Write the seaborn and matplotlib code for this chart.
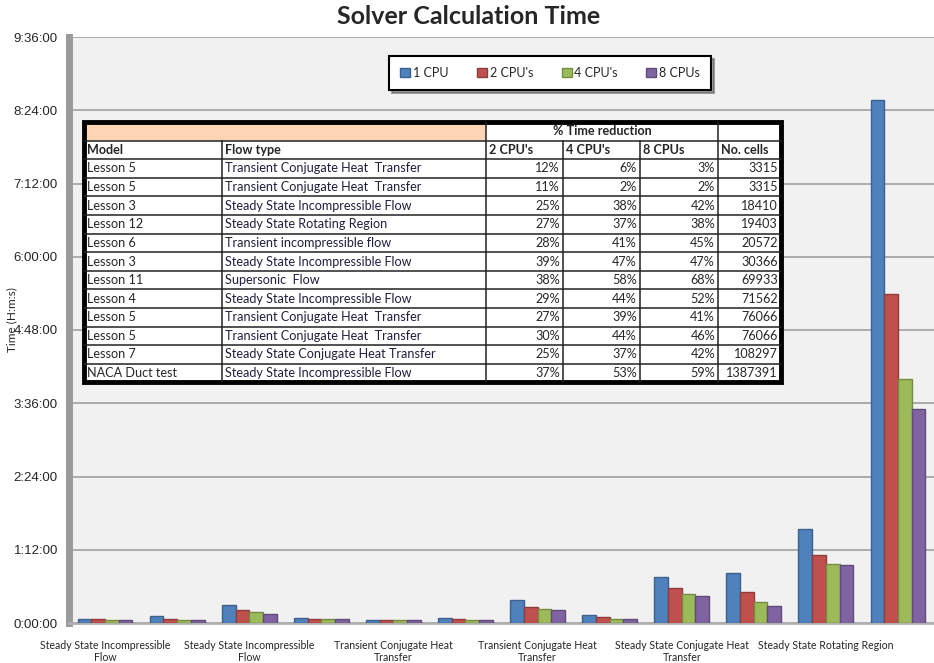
import pandas as pd
import numpy as np
import seaborn as sns
import matplotlib.pyplot as plt
import matplotlib.colors as mcolors
from matplotlib.patches import Rectangle
from matplotlib.ticker import FuncFormatter, MultipleLocator

# --- DATOS ---
cases = [
    "Steady State Incompressible\nFlow", "Steady State Incompressible\nFlow",
    "Steady State Incompressible\nFlow", "Transient incompressible\nflow",
    "Transient Conjugate Heat\nTransfer", "Transient Conjugate Heat\nTransfer",
    "Transient Conjugate Heat\nTransfer", "Transient Conjugate Heat\nTransfer",
    "Steady State Conjugate Heat\nTransfer", "Supersonic Flow",
    "Steady State Rotating Region", "Steady State Incompressible\nFlow",
]
series = ["1 CPU", "2 CPU's", "4 CPU's", "8 CPUs"]
# solver time in minutes
t_1cpu = [4, 7, 18, 5, 3, 5, 23, 7.5, 45, 49, 92, 514]
t_2cpu = [3.5, 4, 13, 4, 2.5, 4, 16, 6, 34, 30, 67, 323]
t_4cpu = [2.5, 3, 10.5, 4, 2.5, 3, 14, 4, 28.5, 21, 58, 240]
t_8cpu = [2.5, 3, 9, 4, 2.5, 3, 13, 4, 26.5, 17, 57, 210]

colors = ["#4F81BD", "#C0504D", "#9BBB59", "#8064A2"]

# tabla
tab_model = ["Lesson 5", "Lesson 5", "Lesson 3", "Lesson 12", "Lesson 6", "Lesson 3",
             "Lesson 11", "Lesson 4", "Lesson 5", "Lesson 5", "Lesson 7", "NACA Duct test"]
tab_flow = ["Transient Conjugate Heat  Transfer", "Transient Conjugate Heat  Transfer",
            "Steady State Incompressible Flow", "Steady State Rotating Region",
            "Transient incompressible flow", "Steady State Incompressible Flow",
            "Supersonic  Flow", "Steady State Incompressible Flow",
            "Transient Conjugate Heat  Transfer", "Transient Conjugate Heat  Transfer",
            "Steady State Conjugate Heat Transfer", "Steady State Incompressible Flow"]
red_2 = [12, 11, 25, 27, 28, 39, 38, 29, 27, 30, 25, 37]
red_4 = [6, 2, 38, 37, 41, 47, 58, 44, 39, 44, 37, 53]
red_8 = [3, 2, 42, 38, 45, 47, 68, 52, 41, 46, 42, 59]
n_cells = [3315, 3315, 18410, 19403, 20572, 30366, 69933, 71562, 76066, 76066, 108297, 1387391]

df = pd.DataFrame({
    "case": np.tile(np.arange(len(cases)), 4),
    "cpus": np.repeat(series, len(cases)),
    "minutes": t_1cpu + t_2cpu + t_4cpu + t_8cpu,
})

sns.set_theme(style="white")
plt.rcParams["font.family"] = ["Lato", "DejaVu Sans"]

fig = plt.figure(figsize=(9.34, 6.63), dpi=100)
W, H = 934, 663
ax = fig.add_axes([69 / W, 1 - 623 / H, 865 / W, 586 / H])
ax.set_facecolor("#F1F1F1")

sns.barplot(data=df, x="case", y="minutes", hue="cpus", hue_order=series,
            palette=colors, width=0.76, saturation=1, legend=False, ax=ax, zorder=3)
for cont, c in zip(ax.containers, colors):
    dark = np.array(mcolors.to_rgb(c)) * 0.75
    for p in cont:
        p.set_edgecolor(dark)
        p.set_linewidth(1.0)

ax.set_ylim(0, 576)
ax.set_xlim(-0.5, len(cases) - 0.5)
ax.yaxis.set_major_locator(MultipleLocator(72))
ax.yaxis.set_major_formatter(FuncFormatter(lambda v, p: f"{int(v) // 60}:{int(v) % 60:02d}:00"))
ax.grid(axis="y", color="#A6A6A6", linewidth=1.3, zorder=0)
ax.set_axisbelow(True)

ax.set_xticks(range(len(cases)))
ax.set_xticklabels([c if i % 2 == 0 else "" for i, c in enumerate(cases)], fontsize=7.6)
ax.set_xticks(np.arange(len(cases) + 1) - 0.5, minor=True)
ax.tick_params(axis="x", which="major", length=0, pad=12)
ax.tick_params(axis="x", which="minor", length=5, color="#808080", width=1)
ax.tick_params(axis="y", length=4, color="#808080", labelsize=9.5, pad=4)
for lab in ax.get_yticklabels():
    lab.set_family(["Liberation Sans", "DejaVu Sans"])
ax.set_xlabel("")
ax.set_ylabel("")

for s in ["top", "right"]:
    ax.spines[s].set_visible(False)
ax.spines["left"].set_color("#9A9A9A")
ax.spines["left"].set_linewidth(5)
ax.spines["bottom"].set_color("#B0B0B0")
ax.spines["bottom"].set_linewidth(2)

fig.text(12 / W, 1 - 320 / H, "Time (H:m:s)", rotation=90, ha="center", va="center", fontsize=8.5)
fig.text(469 / W, 1 - 17 / H, "Solver Calculation Time", ha="center", va="center",
         fontsize=18, fontweight="bold")

# leyenda
handles = [Rectangle((0, 0), 1, 1, facecolor=c, edgecolor=np.array(mcolors.to_rgb(c)) * 0.75)
           for c in colors]
leg = fig.legend(handles, series, loc="center", bbox_to_anchor=(550 / W, 1 - 73 / H), ncol=4,
                 frameon=True, fancybox=False, shadow=True, edgecolor="black", fontsize=9,
                 handlelength=0.8, handleheight=0.8, handletextpad=0.2, columnspacing=2.3,
                 borderpad=0.9)
leg.get_frame().set_linewidth(1.5)

# tabla superpuesta
tab = fig.add_axes([0, 0, 1, 1], zorder=10)
tab.set_xlim(0, W)
tab.set_ylim(H, 0)
tab.axis("off")

cols = [84, 222, 486, 563, 640, 718, 781]
top, rh = 122, 18.6
n_rows = len(tab_model) + 2
bottom = top + rh * n_rows
tab.add_patch(Rectangle((cols[0], top), cols[-1] - cols[0], bottom - top, facecolor="white",
                        edgecolor="none"))
tab.add_patch(Rectangle((cols[0], top), cols[2] - cols[0], rh, facecolor="#FBD5B5", edgecolor="none"))
for r in range(1, n_rows):
    y = top + rh * r
    tab.plot([cols[0], cols[-1]], [y, y], color="#222222", lw=1.1)
for i, x in enumerate(cols[1:-1], start=1):
    y0 = top + rh if i in (1, 3, 4) else top
    tab.plot([x, x], [y0, bottom], color="#222222", lw=1.1)
tab.add_patch(Rectangle((cols[0], top), cols[-1] - cols[0], bottom - top, facecolor="none",
                        edgecolor="black", lw=3.5))

fs = 9.1
tab.text((cols[2] + cols[5]) / 2, top + rh / 2, "% Time reduction", ha="center", va="center",
         fontsize=fs, fontweight="bold")
heads = ["Model", "Flow type", "2 CPU's", "4 CPU's", "8 CPUs", "No. cells"]
for j, h in enumerate(heads):
    tab.text(cols[j] + 3, top + rh * 1.5, h, ha="left", va="center", fontsize=fs, fontweight="bold")
for r in range(len(tab_model)):
    yc = top + rh * (r + 2.5)
    tab.text(cols[0] + 3, yc, tab_model[r], ha="left", va="center", fontsize=fs)
    tab.text(cols[1] + 3, yc, tab_flow[r], ha="left", va="center", fontsize=fs, color="#1F1F3F")
    for j, v in enumerate([red_2[r], red_4[r], red_8[r]]):
        tab.text(cols[j + 3] - 3, yc, f"{v}%", ha="right", va="center", fontsize=fs)
    tab.text(cols[6] - 3, yc, str(n_cells[r]), ha="right", va="center", fontsize=fs)

plt.savefig("out.png", dpi=100)
plt.close()
